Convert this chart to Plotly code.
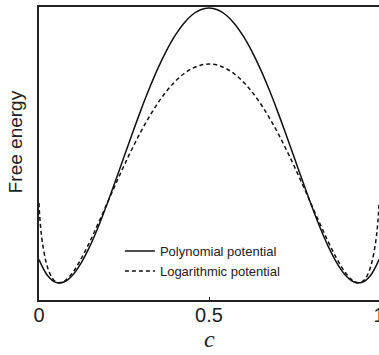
import plotly.graph_objects as go

# Values (normalised free energy, min of wells = 0)
c_poly = [0.0, 0.025, 0.05, 0.075, 0.1, 0.125, 0.15, 0.175, 0.2, 0.225, 0.25,
          0.275, 0.3, 0.325, 0.35, 0.375, 0.4, 0.425, 0.45, 0.475, 0.5]
f_poly_half = [0.0849, 0.0274, 0.0021, 0.0045, 0.0301, 0.0749, 0.1349, 0.2065,
               0.2864, 0.3713, 0.4586, 0.5454, 0.6295, 0.7087, 0.7811, 0.8451,
               0.8994, 0.9428, 0.9744, 0.9936, 1.0]

c_log = [0.0, 0.002, 0.005, 0.01, 0.02, 0.03, 0.04, 0.05, 0.06, 0.075, 0.1,
         0.125, 0.15, 0.175, 0.2, 0.225, 0.25, 0.275, 0.3, 0.325, 0.35, 0.375,
         0.4, 0.425, 0.45, 0.475, 0.5]
f_log_half = [0.2908, 0.2439, 0.1995, 0.1471, 0.0799, 0.0396, 0.0159, 0.0037,
              0.0, 0.0065, 0.0395, 0.0903, 0.1516, 0.2188, 0.2885, 0.3582,
              0.4262, 0.4908, 0.5511, 0.606, 0.6549, 0.6971, 0.7323, 0.76,
              0.7799, 0.792, 0.796]

# mirror the symmetric halves to full [0, 1]
x_poly = c_poly + [round(1 - v, 4) for v in reversed(c_poly[:-1])]
y_poly = f_poly_half + list(reversed(f_poly_half[:-1]))
x_log = c_log + [round(1 - v, 4) for v in reversed(c_log[:-1])]
y_log = f_log_half + list(reversed(f_log_half[:-1]))

tick_vals = [0, 0.5, 1]
tick_text = ["0", "0.5", "1"]
x_title = "c"
y_title = "Free energy"

fig = go.Figure()
fig.add_trace(go.Scatter(x=x_poly, y=y_poly, mode="lines",
                         name="Polynomial potential",
                         line=dict(color="#111111", width=1.5, shape="spline")))
fig.add_trace(go.Scatter(x=x_log, y=y_log, mode="lines",
                         name="Logarithmic potential",
                         line=dict(color="#111111", width=1.5, dash="4px,3px",
                                   shape="spline")))

# the figure is a little wider than the window: the right frame edge is cut
fig.update_layout(
    width=380, height=355,
    margin=dict(l=39, r=1, t=7, b=55),
    paper_bgcolor="white", plot_bgcolor="white",
    font=dict(family="Liberation Sans, Arial, sans-serif", color="#222222"),
    showlegend=True,
    legend=dict(x=0.238, y=0.218, xanchor="left", yanchor="top",
                bgcolor="rgba(0,0,0,0)", borderwidth=0,
                font=dict(size=13, color="#222222"),
                itemwidth=30, tracegroupgap=0),
    xaxis=dict(range=[0, 1], tickvals=tick_vals, ticktext=tick_text,
               showgrid=False, zeroline=False, ticks="inside", ticklen=3,
               tickcolor="#222222", automargin=False,
               ticklabeloverflow="allow", ticklabelstandoff=-4,
               showline=True, linecolor="#222222", linewidth=2, mirror=True,
               tickfont=dict(size=20, color="#222222")),
    yaxis=dict(range=[-0.062, 1.0036], showticklabels=False,
               showgrid=False, zeroline=False, ticks="", automargin=False,
               showline=True, linecolor="#222222", linewidth=2, mirror=True),
    annotations=[
        dict(text=x_title, xref="paper", yref="paper", x=0.5, y=-0.134,
             xanchor="center", yanchor="middle", showarrow=False,
             font=dict(family="Liberation Serif, serif", size=24,
                       style="italic", color="#222222")),
        dict(text=y_title, xref="paper", yref="paper", x=-0.07, y=0.539,
             xanchor="center", yanchor="middle", textangle=-90,
             showarrow=False, font=dict(size=19, color="#222222")),
    ],
)

fig.write_html("out.html", config={"displayModeBar": False},
               post_script="document.body.style.margin='0';"
                           "document.body.style.overflow='hidden';")
